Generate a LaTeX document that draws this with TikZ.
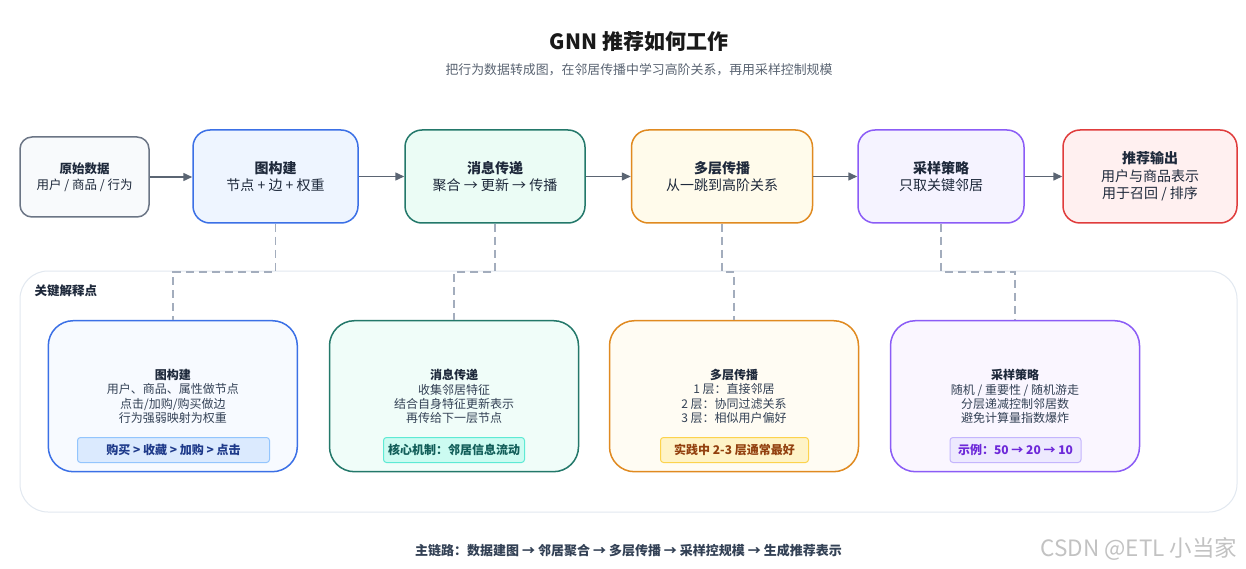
\documentclass[tikz,border=0pt]{standalone}
\usepackage{fontspec}
\setmainfont{Noto Sans CJK SC}
\usetikzlibrary{arrows.meta,calc}
\definecolor{txtdark}{HTML}{1E293B}
\definecolor{txtbody}{HTML}{334155}
\definecolor{subgray}{HTML}{5B6573}
\definecolor{arrowc}{HTML}{5B6573}
\definecolor{dashcol}{HTML}{A3ADBD}
\definecolor{panelb}{HTML}{E2E8F0}
\definecolor{sb}{HTML}{6B7585}\definecolor{sf}{HTML}{F8FAFC}
\definecolor{bb}{HTML}{3B70E6}\definecolor{bf}{HTML}{EEF5FF}
\definecolor{tb}{HTML}{23786A}\definecolor{tf}{HTML}{EBFCF5}
\definecolor{ob}{HTML}{E08A20}\definecolor{of}{HTML}{FFFBEB}
\definecolor{pb}{HTML}{8B5CF6}\definecolor{pf}{HTML}{F5F3FF}
\definecolor{rb}{HTML}{E03C3C}\definecolor{rf}{HTML}{FFF0F0}
\definecolor{bfl}{HTML}{F7FAFF}\definecolor{tfl}{HTML}{F0FDF9}
\definecolor{ofl}{HTML}{FFFCF3}\definecolor{pfl}{HTML}{FAF6FF}
\definecolor{tagbf}{HTML}{DBEAFE}\definecolor{tagbb}{HTML}{93C5FD}\definecolor{tagbt}{HTML}{1E3A8A}
\definecolor{tagtf}{HTML}{CCFBF1}\definecolor{tagtb}{HTML}{5EEAD4}\definecolor{tagtt}{HTML}{115E59}
\definecolor{tagof}{HTML}{FEF3C7}\definecolor{tagob}{HTML}{FCD34D}\definecolor{tagot}{HTML}{92400E}
\definecolor{tagpf}{HTML}{EDE9FE}\definecolor{tagpb}{HTML}{C4B5FD}\definecolor{tagpt}{HTML}{6D28D9}
\definecolor{wmgray}{HTML}{C2C2C2}
\begin{document}
\begin{tikzpicture}[x=1pt,y=-1pt,
  topbox/.style={draw, rounded corners=17, line width=1.5, align=center, inner sep=0,
    minimum width=165, minimum height=93, text=txtdark, font=\fontsize{14}{17.4}\selectfont},
  keybox/.style={draw, rounded corners=25, line width=1.5, inner sep=0,
    minimum width=249, minimum height=151},
  keytext/.style={align=center, text=txtbody, inner sep=0, font=\fontsize{12}{14.3}\selectfont},
  tagbox/.style={draw, rounded corners=3, line width=1, inner sep=0, minimum height=25,
    font=\bfseries\fontsize{12}{14}\selectfont},
  flow/.style={draw=arrowc, line width=1.5, -{Triangle[length=9,width=8]}},
  dashc/.style={draw=dashcol, line width=1.5, dash pattern=on 8 off 5}
]
\useasboundingbox (0,0) rectangle (1246,569);
\fill[white] (0,0) rectangle (1246,569);

% title
\node[font=\bfseries\fontsize{21}{24}\selectfont, text=black!90] (title) at (639,42) {GNN 推荐如何工作};
\node[font=\fontsize{12.9}{16}\selectfont, text=subgray] (subtitle) at (639,70)
  {把行为数据转成图，在邻居传播中学习高阶关系，再用采样控制规模};

% top row
\node[topbox, draw=sb, fill=sf, minimum width=129, minimum height=80, rounded corners=12,
  font=\fontsize{12.5}{16.4}\selectfont] (n1) at (84.5,177) {{\bfseries 原始数据}\\用户 / 商品 / 行为};
\node[topbox, draw=bb, fill=bf] (n2) at (275.5,176.5) {{\bfseries 图构建}\\节点 + 边 + 权重};
\node[topbox, draw=tb, fill=tf, minimum width=180] (n3) at (495,176.5) {{\bfseries 消息传递}\\聚合 → 更新 → 传播};
\node[topbox, draw=ob, fill=of, minimum width=181] (n4) at (722,176.5) {{\bfseries 多层传播}\\从一跳到高阶关系};
\node[topbox, draw=pb, fill=pf, minimum width=166] (n5) at (941,176.5) {{\bfseries 采样策略}\\只取关键邻居};
\node[topbox, draw=rb, fill=rf, minimum width=174] (n6) at (1150,176.5) {{\bfseries 推荐输出}\\用户与商品表示\\用于召回 / 排序};

\draw[flow] (n1.east) -- (n1.east -| n2.west);
\draw[flow] (n2) -- (n3);
\draw[flow] (n3) -- (n4);
\draw[flow] (n4) -- (n5);
\draw[flow] (n5) -- (n6);

% panel
\node[draw=panelb, fill=white, rounded corners=28, line width=1, minimum width=1217,
  minimum height=241, inner sep=0] (panel) at (628.5,391.5) {};
\node[anchor=west, text=txtdark, font=\bfseries\fontsize{12.5}{15}\selectfont] (plabel) at (31,291) {关键解释点};

% key boxes
\node[keybox, draw=bb, fill=bfl] (kA) at (172.8,396.2) {};
\node[keybox, draw=tb, fill=tfl] (kB) at (454,396.2) {};
\node[keybox, draw=ob, fill=ofl] (kC) at (734,396.2) {};
\node[keybox, draw=pb, fill=pfl] (kD) at (1015,396.2) {};

\node[keytext] (tA) at (172.8,396.5) {{\bfseries\color{txtdark}图构建}\\用户、商品、属性做节点\\点击/加购/购买做边\\行为强弱映射为权重};
\node[keytext] (tB) at (454,396.5) {{\bfseries\color{txtdark}消息传递}\\收集邻居特征\\结合自身特征更新表示\\再传给下一层节点};
\node[keytext] (tC) at (734,396.5) {{\bfseries\color{txtdark}多层传播}\\1 层：直接邻居\\2 层：协同过滤关系\\3 层：相似用户偏好};
\node[keytext] (tD) at (1015,396.5) {{\bfseries\color{txtdark}采样策略}\\随机 / 重要性 / 随机游走\\分层递减控制邻居数\\避免计算量指数爆炸};

\node[tagbox, draw=tagbb, fill=tagbf, text=tagbt, minimum width=192] (gA) at (173.5,450) {购买 > 收藏 > 加购 > 点击};
\node[tagbox, draw=tagtb, fill=tagtf, text=tagtt, minimum width=141] (gB) at (454,450) {核心机制：邻居信息流动};
\node[tagbox, draw=tagob, fill=tagof, text=tagot, minimum width=148] (gC) at (734.5,450) {实践中 2-3 层通常最好};
\node[tagbox, draw=tagpb, fill=tagpf, text=tagpt, minimum width=131] (gD) at (1015.5,450) {示例：50 → 20 → 10};

% dashed connectors
\draw[dashc] (n2.south) -- (n2.south |- 0,272) -| (kA.north);
\draw[dashc] (n3.south) -- (n3.south |- 0,272) -| (kB.north);
\draw[dashc] (n4.south) -- (n4.south |- 0,272) -| (kC.north);
\draw[dashc] (n5.south) -- (n5.south |- 0,272) -| (kD.north);

% footer
\node[text=txtbody, font=\bfseries\fontsize{13}{15}\selectfont] (foot) at (628.5,551)
  {主链路：数据建图 → 邻居聚合 → 多层传播 → 采样控规模 → 生成推荐表示};
\node[anchor=east, text=wmgray, font=\fontsize{22.5}{25}\selectfont] (wm) at (1241,549) {CSDN @ETL 小当家};
\end{tikzpicture}
\end{document}
